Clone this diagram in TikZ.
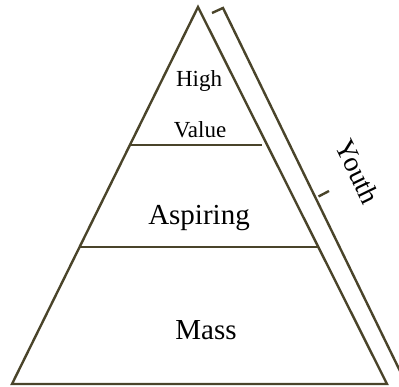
\documentclass[tikz,border=0pt]{standalone}
\usepackage{fontspec}
\setmainfont{Liberation Serif}
\definecolor{pyrline}{RGB}{74,68,42}

\begin{document}
\begin{tikzpicture}[x=1pt,y=-1pt]
  \useasboundingbox (0,0) rectangle (399,387);
  \tikzset{edge/.style={draw=pyrline,line width=2.4pt},
           tier/.style={inner sep=0pt,anchor=base}}
  % pyramid corners
  \coordinate (apex) at (198,7);
  \coordinate (bl) at (12,384);
  \coordinate (br) at (387,384);
  \coordinate (h1) at (129,145);
  \coordinate (h2) at (262,145);
  \coordinate (a1) at (80,247);
  \coordinate (a2) at (318,247);
  \draw[edge,line join=miter] (apex) -- (br) -- (bl) -- cycle;
  \draw[edge] (h1) -- (h2);
  \draw[edge] (a1) -- (a2);
  % bracket
  \coordinate (b0) at (212,13);
  \coordinate (b1) at (223,8);
  \coordinate (bm) at (318.5,196.5);
  \coordinate (bt) at (329,191);
  \coordinate (b2) at (400,371);
  \draw[edge] (b0) -- (b1) -- (b2);
  \draw[edge] (bm) -- (bt);
  % labels
  \node[tier] (high) at (199,87) {\fontsize{23}{23}\selectfont High};
  \node[tier] (value) at (200,138) {\fontsize{23}{23}\selectfont Value};
  \node[tier] (aspiring) at (199,225) {\fontsize{29}{29}\selectfont Aspiring};
  \node[tier] (mass) at (206,340) {\fontsize{29}{29}\selectfont Mass};
  \node[inner sep=0pt,rotate=-64] (youth) at (358,172) {\fontsize{28}{28}\selectfont Youth};
\end{tikzpicture}
\end{document}
